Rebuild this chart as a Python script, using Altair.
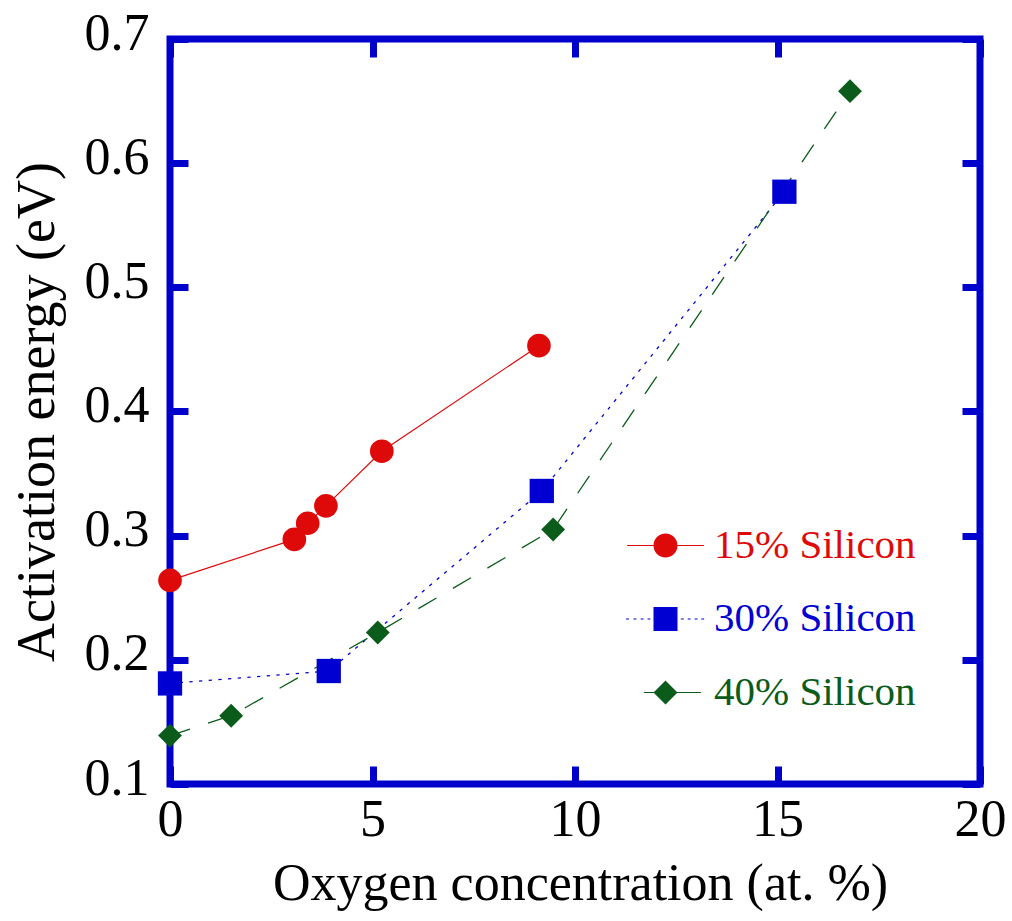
import altair as alt
import pandas as pd

# ---------------- data ----------------
series_names = ["15% Silicon", "30% Silicon", "40% Silicon"]
series_colors = ["#DE0A0A", "#0000D2", "#0B5C1A"]

x15 = [0.0, 3.07, 3.40, 3.85, 5.23, 9.11]
y15 = [0.264, 0.297, 0.310, 0.324, 0.368, 0.453]
x30 = [0.0, 3.92, 9.18, 15.17]
y30 = [0.181, 0.191, 0.336, 0.577]
x40 = [0.0, 1.51, 5.13, 9.46, 16.79]
y40 = [0.139, 0.155, 0.222, 0.305, 0.658]

x_ticks = [0, 5, 10, 15, 20]
y_ticks = [0.1, 0.2, 0.3, 0.4, 0.5, 0.6, 0.7]

rows = []
for name, xs, ys in zip(series_names, [x15, x30, x40], [y15, y30, y40]):
    for a, b in zip(xs, ys):
        rows.append({"series": name, "x": a, "y": b})
df = pd.DataFrame(rows)

# ---------------- styling ----------------
FONT = "Liberation Serif"
FRAME = "#0000CC"
W, H = 810, 745

xscale = alt.Scale(domain=[0, 20], nice=False, zero=False)
yscale = alt.Scale(domain=[0.1, 0.7], nice=False, zero=False)

label_x_axis = alt.Axis(values=x_ticks, format="d", ticks=False, tickSize=0, domain=False,
                        grid=False, labelFont=FONT, labelFontSize=52, labelColor="black",
                        labelPadding=51, labelBaseline="alphabetic", labelFlush=False,
                        labelOverlap=False,
                        title="Oxygen concentration (at. %)", titleFont=FONT, titleFontSize=52,
                        titleFontWeight="normal", titleColor="black",
                        titleX=410, titleY=115, titleBaseline="alphabetic")
label_y_axis = alt.Axis(values=y_ticks, format=".1f", ticks=False, tickSize=0, domain=False,
                        grid=False, labelFont=FONT, labelFontSize=52, labelColor="black",
                        labelPadding=21, labelBaseline="alphabetic", labelOffset=10,
                        labelFlush=False, labelOverlap=False,
                        title="Activation energy (eV)", titleFont=FONT, titleFontSize=54,
                        titleFontWeight="normal", titleColor="black",
                        titleX=-117, titleY=H / 2, titleBaseline="alphabetic")


def tick_axis(values, orient):
    return alt.Axis(values=values, orient=orient, labels=False, domain=False, grid=False,
                    ticks=True, tickSize=18, tickWidth=7, tickColor=FRAME, offset=-18,
                    title=None)


def sub(name):
    return alt.Chart(df).transform_filter(alt.datum.series == name)


c15, c30, c40 = series_colors

line15 = sub(series_names[0]).mark_line(color=c15, strokeWidth=1.2).encode(
    x=alt.X("x:Q", scale=xscale, axis=label_x_axis),
    y=alt.Y("y:Q", scale=yscale, axis=label_y_axis),
)
line30 = sub(series_names[1]).mark_line(color=c30, strokeWidth=1.3, strokeDash=[3.3, 6.4]).encode(
    x=alt.X("x:Q", scale=xscale, axis=tick_axis(x_ticks, "bottom")),
    y=alt.Y("y:Q", scale=yscale, axis=tick_axis(y_ticks, "left")),
)
line40 = sub(series_names[2]).mark_line(color=c40, strokeWidth=1.3, strokeDash=[21, 19]).encode(
    x=alt.X("x:Q", scale=xscale, axis=tick_axis(x_ticks, "top")),
    y=alt.Y("y:Q", scale=yscale, axis=tick_axis(y_ticks, "right")),
)


def pts(name, shape, color, size):
    return sub(name).mark_point(shape=shape, filled=True, color=color, size=size,
                                opacity=1, strokeWidth=0).encode(
        x=alt.X("x:Q", scale=xscale, axis=None),
        y=alt.Y("y:Q", scale=yscale, axis=None),
    )


p15 = pts(series_names[0], "circle", c15, 560)
p30 = pts(series_names[1], "square", c30, 590)
p40 = pts(series_names[2], "diamond", c40, 570)


# ---------------- legend (symbols = line + marker glyph) ----------------
def rect(a, b, h=0.05):
    return f"M{a},{-h}L{b},{-h}L{b},{h}L{a},{h}Z"


circle_path = "M-1,0A1,1,0,1,1,1,0A1,1,0,1,1,-1,0Z"
square_path = "M-1,-1L1,-1L1,1L-1,1Z"
diamond_path = "M-1,0L0,-1L1,0L0,1Z"
dot_centers = [-3.17, -2.55, -1.95, -1.38, 1.40, 1.97, 2.55, 3.10]

sym15 = rect(-3.2, -0.97) + rect(0.97, 3.2) + circle_path
sym30 = "".join(rect(c - 0.12, c + 0.12) for c in dot_centers) + square_path
sym40 = rect(-1.8, -0.9) + rect(0.9, 2.95) + diamond_path

label_color_expr = (
    f"datum.label == '{series_names[0]}' ? '{c15}' : "
    f"datum.label == '{series_names[1]}' ? '{c30}' : '{c40}'"
)

legend = alt.Legend(
    title=None, orient="none", legendX=449, legendY=486, padding=0,
    symbolSize=576, symbolOffset=26, labelOffset=28, rowPadding=31.5,
    symbolStrokeWidth=0, symbolOpacity=1,
    labelFont=FONT, labelFontSize=41, labelColor={"expr": label_color_expr},
    labelLimit=400,
)

legend_layer = alt.Chart(df).transform_filter("false").mark_point(
    filled=True, size=576, opacity=1, strokeWidth=0
).encode(
    x=alt.X("x:Q", scale=xscale, axis=None),
    y=alt.Y("y:Q", scale=yscale, axis=None),
    color=alt.Color("series:N", scale=alt.Scale(domain=series_names, range=series_colors),
                    legend=legend),
    shape=alt.Shape("series:N", scale=alt.Scale(domain=series_names, range=[sym15, sym30, sym40]),
                    legend=legend),
)

chart = alt.layer(
    line15, line30, line40, p15, p30, p40, legend_layer
).resolve_axis(
    x="independent", y="independent"
).properties(
    width=W, height=H, autosize="none",
    padding={"left": 170, "top": 39, "right": 32, "bottom": 137},
).configure_view(
    stroke=FRAME, strokeWidth=7
)

chart.save("out.html", embed_options={"renderer": "svg", "actions": False})
